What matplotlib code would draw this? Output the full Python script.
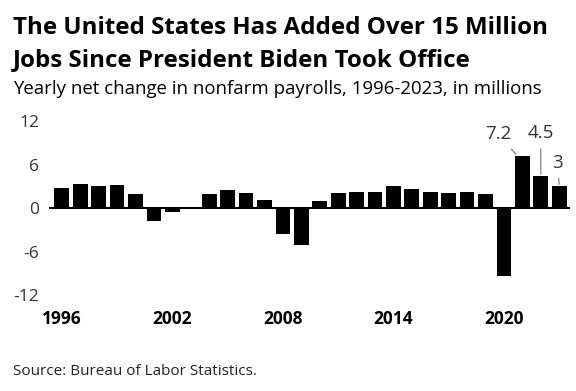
import matplotlib.pyplot as plt
import numpy as np

years = list(range(1996, 2024))
change = [2.8, 3.4, 3.0, 3.2, 1.9, -1.8, -0.5, 0.1, 2.0, 2.5, 2.1, 1.1, -3.6, -5.1,
          1.0, 2.1, 2.2, 2.3, 3.0, 2.7, 2.3, 2.1, 2.3, 2.0, -9.3, 7.2, 4.5, 3.0]
yticks = [-12, -6, 0, 6, 12]
xticks = [1996, 2002, 2008, 2014, 2020]

plt.rcParams['font.family'] = ['Open Sans', 'DejaVu Sans']

fig = plt.figure(figsize=(5.76, 3.91), dpi=100)
ax = fig.add_axes([0.085, 0.245, 0.905, 0.445])

ax.bar(years, change, width=0.8, color='black')
ax.axhline(0, color='black', lw=1.5)

ax.set_ylim(-12, 12)
ax.set_xlim(1995.3, 2023.6)
ax.set_yticks(yticks)
ax.set_yticklabels([str(t) for t in yticks], fontsize=12.5, color='#333333')
ax.set_xticks(xticks)
ax.set_xticklabels([str(t) for t in xticks], fontsize=12.5, fontweight='bold', color='black')
ax.tick_params(length=0, pad=7)
ax.tick_params(axis='x', pad=11)
for s in ax.spines.values():
    s.set_visible(False)

# value labels on the Biden years
lbl = dict(fontsize=13.5, color='#333333', ha='center', va='center')
arr = dict(arrowstyle='-', color='gray', lw=0.9, shrinkA=3, shrinkB=1)
ax.annotate('7.2', xy=(2020.7, 7.3), xytext=(2019.7, 10.2), arrowprops=arr, **lbl)
ax.annotate('4.5', xy=(2022, 4.5), xytext=(2022.0, 10.4), arrowprops=arr, **lbl)
ax.annotate('3', xy=(2023, 3.1), xytext=(2022.9, 6.3), arrowprops=arr, **lbl)

fig.text(0.022, 0.958, 'The United States Has Added Over 15 Million', fontsize=17.4,
         fontweight='bold', va='top')
fig.text(0.022, 0.877, 'Jobs Since President Biden Took Office', fontsize=17.4,
         fontweight='bold', va='top')
fig.text(0.022, 0.795, 'Yearly net change in nonfarm payrolls, 1996-2023, in millions',
         fontsize=13.4, va='top')
fig.text(0.022, 0.04, 'Source: Bureau of Labor Statistics.', fontsize=11, color='#222222')

fig.savefig('out.png', dpi=100)
